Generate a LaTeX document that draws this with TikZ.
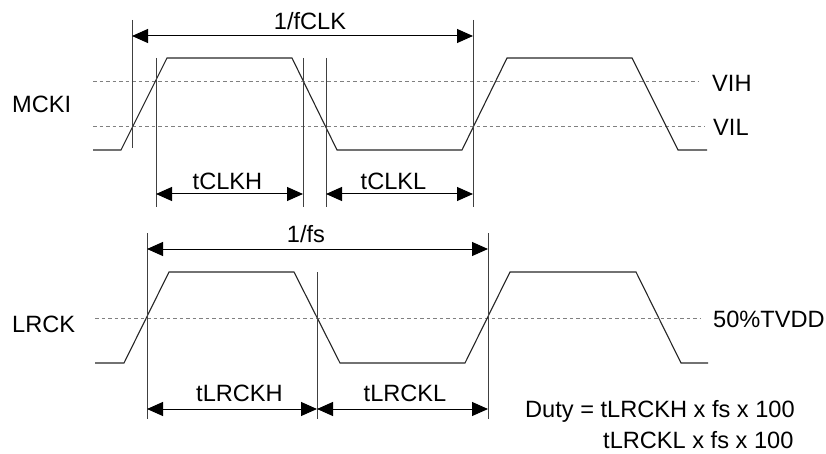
\documentclass[tikz,border=0pt]{standalone}
\usepackage{fontspec}
\setmainfont{Liberation Sans}
\usetikzlibrary{arrows.meta,positioning}

\begin{document}
\begin{tikzpicture} [x=1pt,y=-1pt,{wave/.style={color=black!85,line width=1.1pt,line join=miter}},{level/.style={color=gray,line width=1pt,dash pattern=on 3.5pt off 3pt}},{mark line/.style={color=black!75,line width=1pt}},{dimline/.style={{Triangle[length=16pt,width=14pt]}-{Triangle[length=16pt,width=14pt]},color=black,line width=1pt}},{lab/.style={inner sep=0pt,font=\fontsize{23.6}{28}\selectfont}}]
	\useasboundingbox (0,0) rectangle (826,454);
	%%signal names and levels
	\node [lab,anchor=base west] (mcki) at (12,113) {MCKI};
	\node [lab,anchor=base west] (lrck) at (12,332) {LRCK};
	\node [lab,anchor=base west] (vih) at (712,92) {VIH};
	\node [lab,anchor=base west] (vil) at (713,136) {VIL};
	\node [lab,anchor=base west] (half) at (713,327) {50\%TVDD};
	%%threshold lines
	\draw [level] (93,82) -- (698,82);
	\draw [level] (93,127) -- (705,127);
	\draw [level] (95,318) -- (700,318);
	%%MCKI waveform
	\draw [wave] (93,150) -- (121,150) -- (167,58) -- (292,58) -- (337,150) -- (462,150) -- (507,58) -- (632,58) -- (678,150) -- (707,150);
	%%LRCK waveform
	\draw [wave] (95,363) -- (124,363) -- (169,272) -- (294,272) -- (340,363) -- (465,363) -- (510,272) -- (636,272) -- (681,363) -- (708,363);
	
	%%coordinates of MCKI marks
	\coordinate (P1) at (132,36);
	\coordinate (P2) at (156,194);
	\coordinate (P3) at (303,194);
	\coordinate (P4) at (326,194);
	\coordinate (P5) at (473,194);
	\coordinate (P6) at (473,36);
	\draw [mark line] (132,20) -- (132,148);
	\draw [mark line] (156,58) -- (156,207);
	\draw [mark line] (303,58) -- (303,207);
	\draw [mark line] (326,58) -- (326,207);
	\draw [mark line] (473,20) -- (473,207);
	\draw [dimline] (P1) -- (P6);
	\draw [dimline] (P2) -- (P3);
	\draw [dimline] (P4) -- (P5);
	\node [lab,anchor=base] (period) at (310,30) {1/fCLK};
	\node [lab,anchor=base] (high) at (227.5,190) {tCLKH};
	\node [lab,anchor=base] (low) at (393.5,190) {tCLKL};
	
	%%coordinates of LRCK marks
	\coordinate (Q1) at (147,249);
	\coordinate (Q2) at (147,409);
	\coordinate (Q3) at (317,409);
	\coordinate (Q4) at (488,409);
	\coordinate (Q5) at (488,249);
	\draw [mark line] (147,233) -- (147,419);
	\draw [mark line] (317,272) -- (317,419);
	\draw [mark line] (488,233) -- (488,419);
	\draw [dimline] (Q1) -- (Q5);
	\draw [dimline] (Q2) -- (Q3);
	\draw [dimline] (Q3) -- (Q4);
	\node [lab,anchor=base] (frame) at (306,242) {1/fs};
	\node [lab,anchor=base] (lrhigh) at (239.5,401) {tLRCKH};
	\node [lab,anchor=base] (lrlow) at (405,401) {tLRCKL};
	%%duty
	\node [lab,anchor=base west] (duty) at (525,417) {Duty = tLRCKH x fs x 100};
	\node [lab,anchor=base west] (duty2) at (603,448) {tLRCKL x fs x 100};
\end{tikzpicture}
\end{document}
